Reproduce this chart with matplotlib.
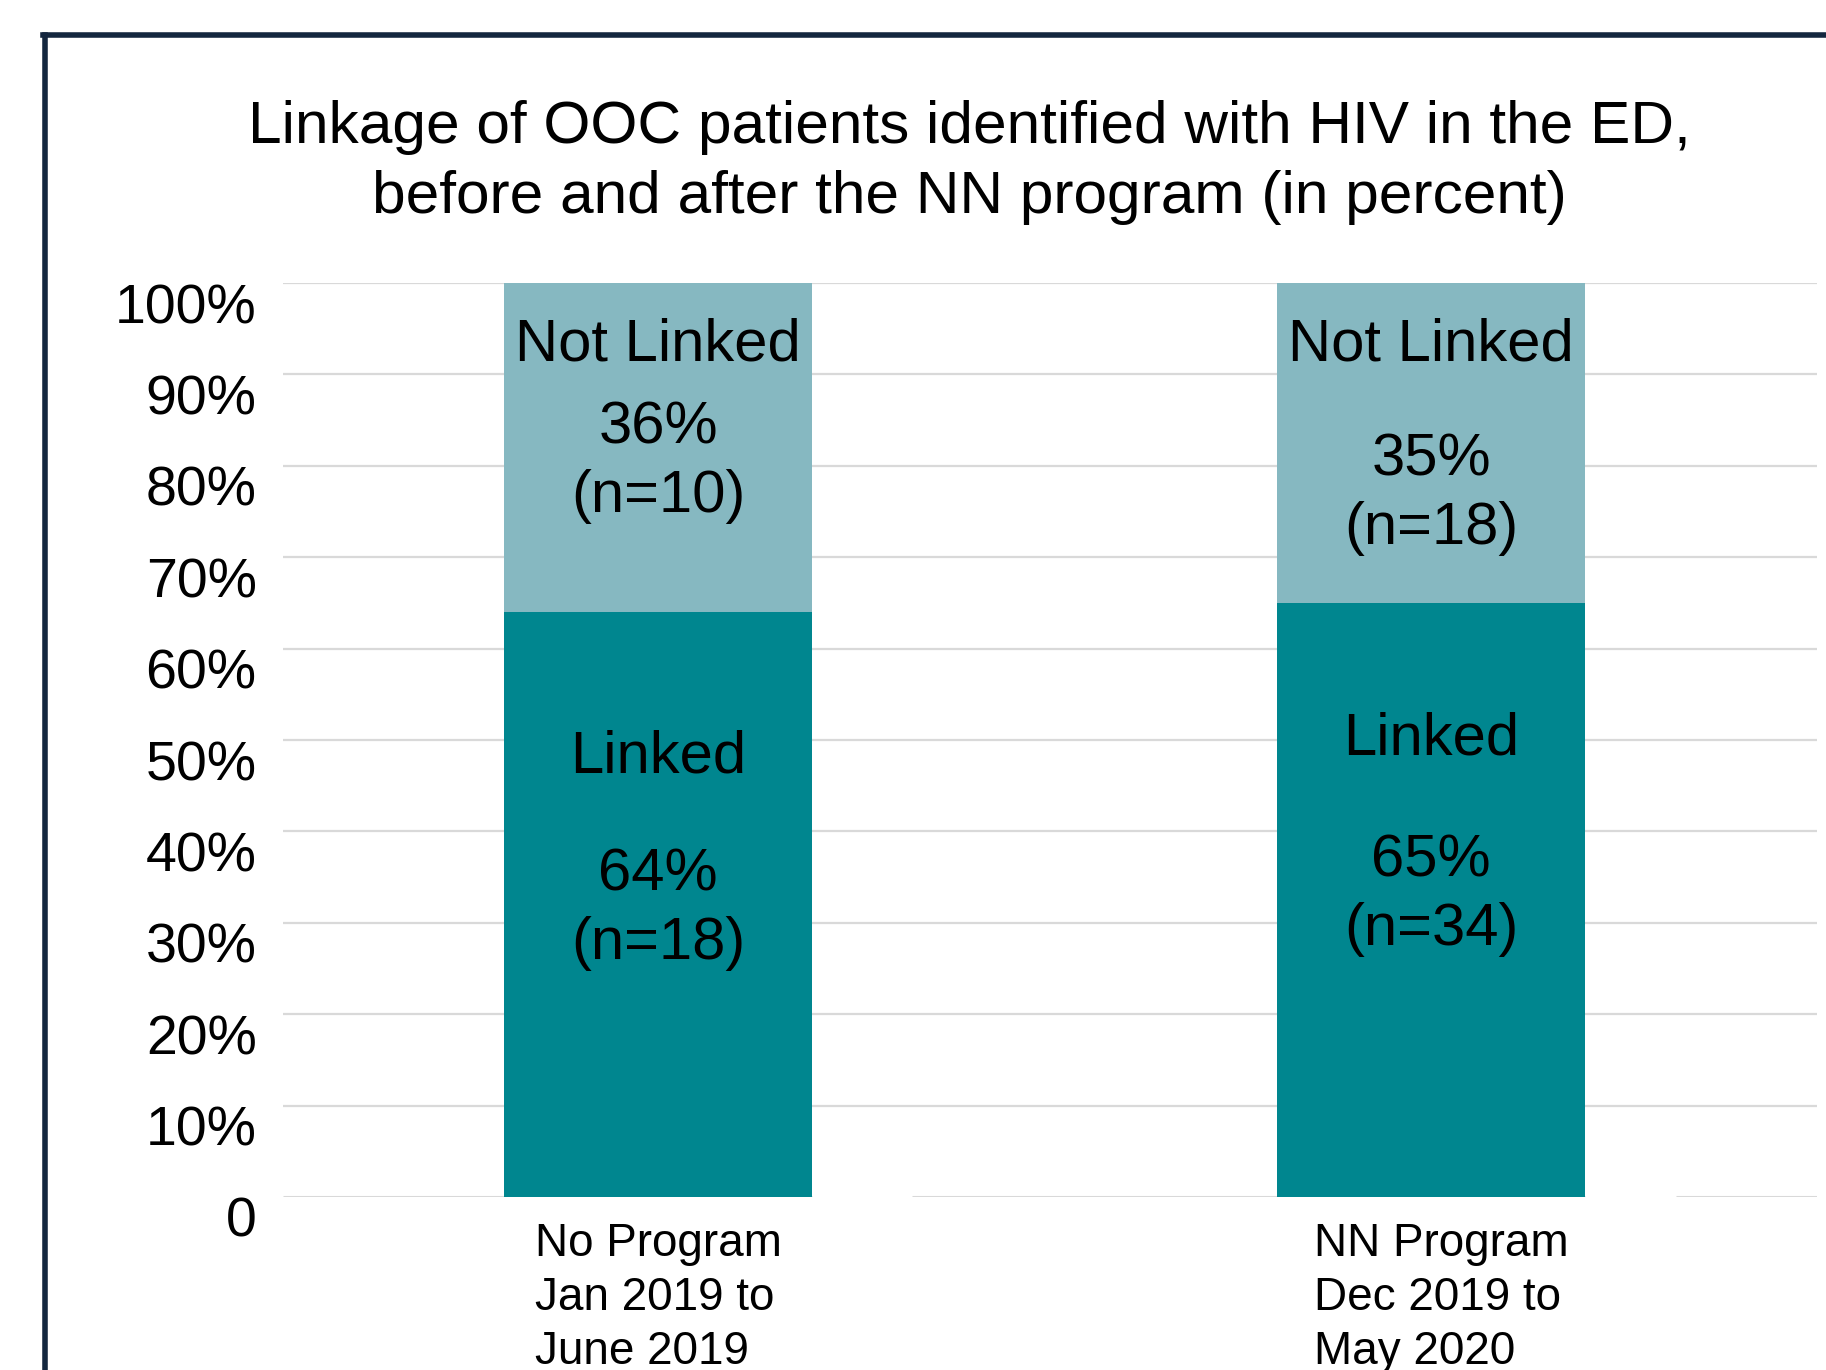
import matplotlib.pyplot as plt
import matplotlib.transforms as mtransforms
from matplotlib.lines import Line2D

plt.rcParams["font.family"] = ["Liberation Sans", "DejaVu Sans"]

# data
groups = ["No Program\nJan 2019 to\nJune 2019", "NN Program\nDec 2019 to\nMay 2020"]
linked_pct = [64, 65]
not_linked_pct = [36, 35]
linked_n = [18, 34]
not_linked_n = [10, 18]
yticks = [0, 10, 20, 30, 40, 50, 60, 70, 80, 90, 100]
ytick_labels = ["0", "10%", "20%", "30%", "40%", "50%", "60%", "70%", "80%", "90%", "100%"]

linked_color = "#00868F"
not_linked_color = "#86B8C1"
grid_color = "#D9D9D9"

fig = plt.figure(figsize=(18.26, 13.70), dpi=100)
ax = fig.add_axes([0.155, 0.1263, 0.84, 0.6671])

x = list(range(len(groups)))
bar_w = 0.398

# gridlines (zero line has gaps right of the bars, as in the slide)
for yv in yticks[1:]:
    ax.axhline(yv, color=grid_color, lw=1.6, zorder=0)
xmin, xmax = -0.485, 1.499
segs = [(xmin, x[0] + bar_w / 2), (x[0] + bar_w / 2 + 0.13, x[1] + bar_w / 2),
        (x[1] + bar_w / 2 + 0.118, xmax)]
for a, b in segs:
    ax.hlines(0, a, b, color=grid_color, lw=2.2, zorder=0)

ax.bar(x, linked_pct, width=bar_w, color=linked_color, zorder=2)
ax.bar(x, not_linked_pct, width=bar_w, bottom=linked_pct, color=not_linked_color, zorder=2)

# labels inside bars (label positions in % units)
linked_label_y = [[48.1, 31.5], [50.1, 33.0]]
not_linked_label_y = [[93.2, 80.4], [93.2, 76.9]]
for i in x:
    ax.text(i, linked_label_y[i][0], "Linked", ha="center", va="center", fontsize=43)
    ax.text(i, linked_label_y[i][1], f"{linked_pct[i]}%\n(n={linked_n[i]})",
            ha="center", va="center", fontsize=43, linespacing=1.32)
    ax.text(i, not_linked_label_y[i][0], "Not Linked", ha="center", va="center", fontsize=43)
    ax.text(i, not_linked_label_y[i][1], f"{not_linked_pct[i]}%\n(n={not_linked_n[i]})",
            ha="center", va="center", fontsize=43, linespacing=1.32)

ax.set_xlim(xmin, xmax)
ax.set_ylim(0, 100)
ax.set_yticks(yticks)
ax.set_yticklabels(ytick_labels, fontsize=40)
ax.set_xticks(x)
ax.set_xticklabels(groups, fontsize=33, linespacing=1.3, multialignment="left")
ax.tick_params(axis="both", length=0)
ax.tick_params(axis="y", pad=19)
ax.tick_params(axis="x", pad=18)
for s in ax.spines.values():
    s.set_visible(False)

# nudge y labels a bit below their gridlines
shift = mtransforms.ScaledTranslation(0, -20 / 100, fig.dpi_scale_trans)
for lab in ax.get_yticklabels():
    lab.set_transform(lab.get_transform() + shift)
xl = ax.get_xticklabels()
xl[1].set_transform(xl[1].get_transform()
                    + mtransforms.ScaledTranslation(10 / 100, 0, fig.dpi_scale_trans))

fig.text(0.531, 0.8815, "Linkage of OOC patients identified with HIV in the ED,\n"
         "before and after the NN program (in percent)",
         ha="center", va="center", fontsize=43.5, linespacing=1.35)

# slide frame
fig.add_artist(Line2D([0.0249, 0.0249], [0.0, 0.9745], color="#14273F", lw=4,
                      transform=fig.transFigure))
fig.add_artist(Line2D([0.0238, 1.0], [0.9745, 0.9745], color="#14273F", lw=4,
                      transform=fig.transFigure))

fig.savefig("out.png", dpi=100)
